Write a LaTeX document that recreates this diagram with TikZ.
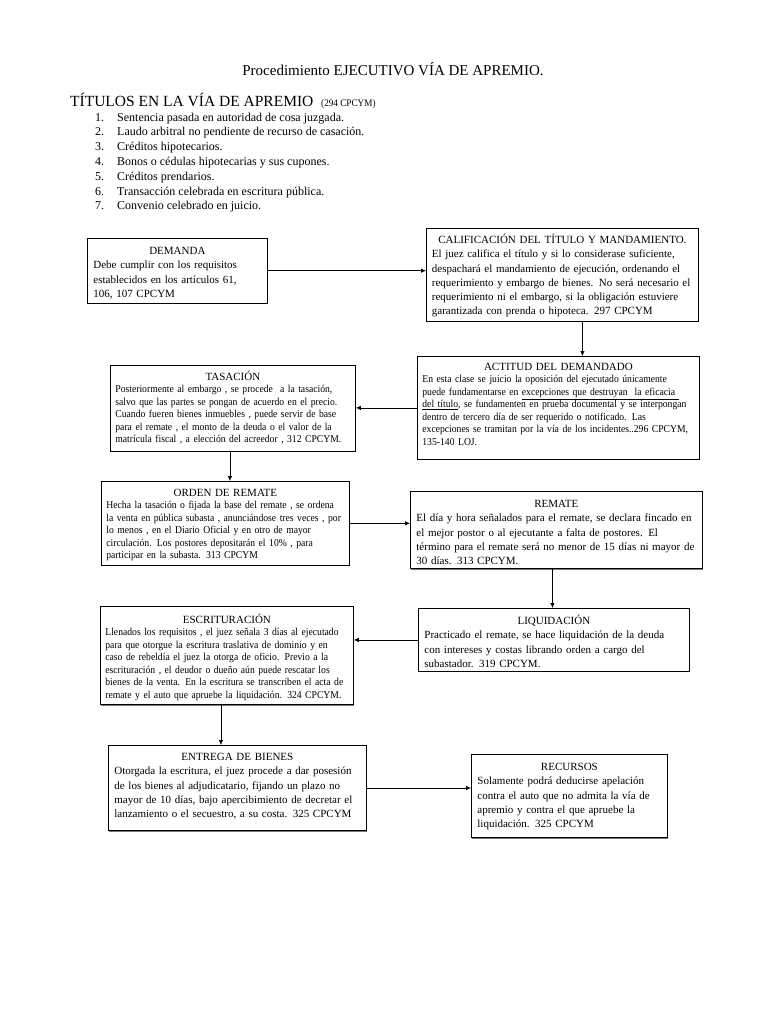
\documentclass[tikz,border=0pt]{standalone}
\usepackage{fontspec}
\setmainfont{Liberation Serif}
\newfontfamily\estrecha[FakeStretch=0.92]{Liberation Serif}
\usetikzlibrary{arrows.meta,shadows}
\definecolor{SombraClr}{RGB}{120,120,120}
\newcommand\titulo[2][0pt]{\hfill\rule{0pt}{\dimexpr 10pt+#1\relax}{\rmfamily\fontsize{11}{13}\selectfont #2}\hfill\null\\}
\newcommand\hueco[1]{\rule[-#1]{0pt}{#1}}
\tikzset{
  caja/.style={draw,line width=0.8pt,fill=white,anchor=north west,inner xsep=6pt,inner ysep=4pt,align=left,
    drop shadow={shadow xshift=1pt,shadow yshift=-1pt,fill=SombraClr,opacity=1},
    font=\fontsize{11}{14.3}\selectfont},
  cajachica/.style={caja,inner xsep=5pt,font=\estrecha\fontsize{10.5}{12.5}\selectfont},
  flecha/.style={-{Latex[length=5pt,width=4.5pt]},line width=0.7pt}
}

\begin{document}
\begin{tikzpicture}[x=1pt,y=-1pt]
\useasboundingbox[fill=white] (0,0) rectangle (768,1024);

\node[anchor=base,font=\fontsize{15}{17}\selectfont] (titulo) at (393,76) {Procedimiento EJECUTIVO VÍA DE APREMIO.};
\node[anchor=base west,font=\fontsize{15.5}{17}\selectfont,inner sep=0pt] (titulos) at (70,107)
  {TÍTULOS EN LA VÍA DE APREMIO\ \ {\estrecha\fontsize{10}{12}\selectfont(294 CPCYM)}};
\node[anchor=north west,inner sep=0pt,font=\fontsize{12}{14.8}\selectfont] (lista) at (95,110.6) {%
  \begin{tabular}{@{}r@{\hspace{13pt}}l@{}}
  1. & Sentencia pasada en autoridad de cosa juzgada.\\
  2. & Laudo arbitral no pendiente de recurso de casación.\\
  3. & Créditos hipotecarios.\\
  4. & Bonos o cédulas hipotecarias y sus cupones.\\
  5. & Créditos prendarios.\\
  6. & Transacción celebrada en escritura pública.\\
  7. & Convenio celebrado en juicio.
  \end{tabular}};

\node[caja,text width=168pt] (demanda) at (87,238) {\titulo[2pt]{DEMANDA}
  Debe cumplir con los requisitos\\
  establecidos en los artículos 61,\\
  106, 107 CPCYM};

\node[caja,inner xsep=5.5pt,text width=261pt] (calificacion) at (426,228) {\titulo[1pt]{CALIFICACIÓN DEL TÍTULO Y MANDAMIENTO.}
  El juez califica el título y si lo considerase suficiente,\\
  despachará el mandamiento de ejecución, ordenando el\\
  requerimiento y embargo de bienes. No será necesario el\\
  requerimiento ni el embargo, si la obligación estuviere\\
  garantizada con prenda o hipoteca. 297 CPCYM};

\node[cajachica,text width=272pt] (actitud) at (417,356) {\titulo{ACTITUD DEL DEMANDADO}
  En esta clase se juicio la oposición del ejecutado únicamente\\
  puede fundamentarse en \underline{excepciones que destruyan\ \ la eficacia\ }\\
  \underline{del título}, se fundamenten en prueba documental y se interpongan\\
  dentro de tercero día de ser requerido o notificado. Las\\
  excepciones se tramitan por la vía de los incidentes..296 CPCYM,\\
  135-140 LOJ.\hueco{10pt}};

\node[cajachica,text width=235pt] (tasacion) at (110,365) {\titulo[1pt]{TASACIÓN}
  Posteriormente al embargo , se procede\ \ a la tasación,\\
  salvo que las partes se pongan de acuerdo en el precio.\\
  Cuando fueren bienes inmuebles , puede servir de base\\
  para el remate , el monto de la deuda o el valor de la\\
  matrícula fiscal , a elección del acreedor , 312 CPCYM.\hueco{4pt}};

\node[cajachica,text width=238pt] (orden) at (101,481) {\titulo[1pt]{ORDEN DE REMATE}
  Hecha la tasación o fijada la base del remate , se ordena\\
  la venta en pública subasta , anunciándose tres veces , por\\
  lo menos , en el Diario Oficial y en otro de mayor\\
  circulación. Los postores depositarán el 10\% , para\\
  participar en la subasta. 313 CPCYM};

\node[caja,text width=280pt] (remate) at (410,491) {\titulo[2pt]{REMATE}
  El día y hora señalados para el remate, se declara fincado en\\
  el mejor postor o al ejecutante a falta de postores. El\\
  término para el remate será no menor de 15 días ni mayor de\\
  30 días. 313 CPCYM.};

\node[caja,text width=259pt] (liquidacion) at (418,608) {\titulo[2pt]{LIQUIDACIÓN}
  Practicado el remate, se hace liquidación de la deuda\\
  con intereses y costas librando orden a cargo del\\
  subastador. 319 CPCYM.};

\node[cajachica,text width=243pt] (escrituracion) at (100,606) {\titulo[3pt]{ESCRITURACIÓN}
  Llenados los requisitos , el juez señala 3 días al ejecutado\\
  para que otorgue la escritura traslativa de dominio y en\\
  caso de rebeldía el juez la otorga de oficio. Previo a la\\
  escrituración , el deudor o dueño aún puede rescatar los\\
  bienes de la venta. En la escritura se transcriben el acta de\\
  remate y el auto que apruebe la liquidación. 324 CPCYM.};

\node[caja,text width=246pt] (entrega) at (108,745) {\titulo[1pt]{ENTREGA DE BIENES}
  Otorgada la escritura, el juez procede a dar posesión\\
  de los bienes al adjudicatario, fijando un plazo no\\
  mayor de 10 días, bajo apercibimiento de decretar el\\
  lanzamiento o el secuestro, a su costa. 325 CPCYM\hueco{9pt}};

\node[caja,text width=184pt] (recursos) at (471,754) {\titulo[2pt]{RECURSOS}
  Solamente podrá deducirse apelación\\
  contra el auto que no admita la vía de\\
  apremio y contra el que apruebe la\\
  liquidación. 325 CPCYM\hueco{6pt}};

\draw[flecha] (demanda.east) -- (demanda.east -| calificacion.west);
\draw[flecha] ([xshift=20pt]calificacion.south) -- ([xshift=20pt]calificacion.south |- actitud.north);
\draw[flecha] (actitud.west) -- (actitud.west -| tasacion.east);
\draw[flecha] ([xshift=-3pt]tasacion.south) -- ([xshift=-3pt]tasacion.south |- orden.north);
\draw[flecha] (orden.east) -- (orden.east -| remate.west);
\draw[flecha] ([xshift=-4pt]remate.south) -- ([xshift=-4pt]remate.south |- liquidacion.north);
\draw[flecha] (liquidacion.west) -- (liquidacion.west -| escrituracion.east);
\draw[flecha] ([xshift=-6pt]escrituracion.south) -- ([xshift=-6pt]escrituracion.south |- entrega.north);
\draw[flecha] (entrega.east) -- (entrega.east -| recursos.west);

\end{tikzpicture}
\end{document}
